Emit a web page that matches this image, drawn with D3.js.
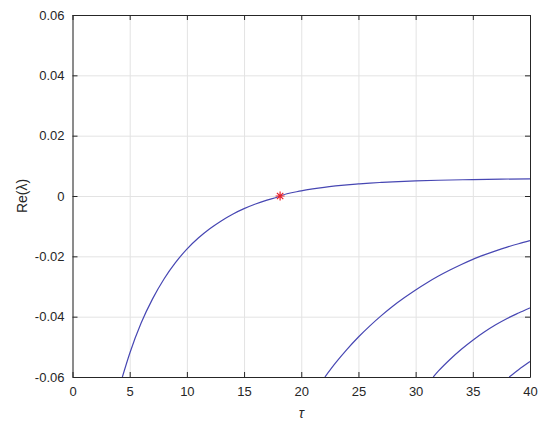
<!DOCTYPE html>
<html>
<head>
<meta charset="utf-8">
<script src="https://cdn.jsdelivr.net/npm/d3@7"></script>
<style>
  body { margin: 0; background: #fff; }
  text { font-family: "Liberation Sans", Arial, sans-serif; fill: #262626; }
</style>
</head>
<body>
<div class="chart"></div>
<script>
// data
var xTicks = [0, 5, 10, 15, 20, 25, 30, 35, 40];
var yTicks = [-0.06, -0.04, -0.02, 0, 0.02, 0.04, 0.06];
var yTickLabels = ["-0.06", "-0.04", "-0.02", "0", "0.02", "0.04", "0.06"];

var tau1 = [4.36, 5, 6, 7, 8, 9, 10, 11, 12, 13, 14, 15, 16, 17, 18, 18.15,
  20, 21, 22, 23, 24, 25, 26, 27, 28, 29, 30, 32, 35, 37.5, 40];
var re1 = [-0.0600, -0.0522, -0.0421, -0.0341, -0.0275, -0.0221, -0.0176, -0.01394, -0.01085,
  -0.00825, -0.00603, -0.0042, -0.00266, -0.00136, -0.00025, 0,
  0.0017, 0.00235, 0.00289, 0.00333, 0.0037, 0.0040, 0.00427, 0.0045, 0.0047, 0.00487, 0.0050,
  0.00522, 0.00545, 0.0056, 0.0057];

var tau2 = [22.07, 23, 24, 25, 26, 27, 28, 29, 30, 31, 32, 33, 34, 35, 36, 37, 38, 39, 40];
var re2 = [-0.0600, -0.05535, -0.05085, -0.04675, -0.04305, -0.03965, -0.03655, -0.03375, -0.03115,
  -0.02875, -0.02655, -0.02455, -0.0227, -0.0210, -0.01953, -0.01818, -0.01694, -0.01582, -0.0148];

var tau3 = [31.54, 32, 33, 34, 35, 36, 37, 38, 39, 40];
var re3 = [-0.0600, -0.0580, -0.0542, -0.0508, -0.0478, -0.0451, -0.0427, -0.0406, -0.0388, -0.0371];

var tau4 = [38.18, 39, 40];
var re4 = [-0.0600, -0.0576, -0.0549];

// the red star
var markTau = [18.15];
var markRe = [0];

// svg container
var svgWidth = 550;
var svgHeight = 424;

var margin = { top: 15, right: 20, bottom: 47, left: 72.5 };
var width = svgWidth - margin.left - margin.right;
var height = svgHeight - margin.top - margin.bottom;

var svg = d3.select(".chart")
  .append("svg")
  .attr("width", svgWidth)
  .attr("height", svgHeight);

var chartGroup = svg.append("g")
  .attr("transform", `translate(${margin.left}, ${margin.top})`);

var xScale = d3.scaleLinear().domain([0, 40]).range([0, width]);
var yScale = d3.scaleLinear().domain([-0.06, 0.06]).range([height, 0]);

// grid lines
chartGroup.append("g")
  .call(d3.axisBottom(xScale).tickValues(xTicks).tickSize(height).tickFormat(""))
  .call(g => g.select(".domain").remove())
  .selectAll("line").attr("stroke", "#e3e3e3");

chartGroup.append("g")
  .call(d3.axisLeft(yScale).tickValues(yTicks).tickSize(-width).tickFormat(""))
  .call(g => g.select(".domain").remove())
  .selectAll("line").attr("stroke", "#e3e3e3");

// curves
var series = [[tau1, re1], [tau2, re2], [tau3, re3], [tau4, re4]];

var line = d3.line()
  .x(d => xScale(d[0]))
  .y(d => yScale(d[1]))
  .curve(d3.curveMonotoneX);

svg.append("defs").append("clipPath").attr("id", "clip")
  .append("rect").attr("width", width).attr("height", height);

chartGroup.append("g").attr("clip-path", "url(#clip)")
  .selectAll("path")
  .data(series)
  .enter()
  .append("path")
  .attr("d", s => line(d3.zip(s[0], s[1])))
  .attr("fill", "none")
  .attr("stroke", "#4747b3")
  .attr("stroke-width", 1.2);

// star marker (plus + cross)
var star = "M-4.5,0L4.5,0M0,-4.5L0,4.5M-3.2,-3.2L3.2,3.2M-3.2,3.2L3.2,-3.2";
chartGroup.selectAll(".mark")
  .data(d3.zip(markTau, markRe))
  .enter()
  .append("path")
  .attr("class", "mark")
  .attr("transform", d => `translate(${xScale(d[0])}, ${yScale(d[1])})`)
  .attr("d", star)
  .attr("fill", "none")
  .attr("stroke", "#e8202a")
  .attr("stroke-width", 1.2);

// axes, box with inward ticks
function styleAxis(g) {
  g.select(".domain").attr("stroke", "#262626");
  g.selectAll(".tick line").attr("stroke", "#262626");
  g.selectAll("text").attr("font-size", 13).attr("fill", "#262626")
    .attr("font-family", "Liberation Sans, Arial, sans-serif");
}

chartGroup.append("g")
  .attr("transform", `translate(0, ${height})`)
  .call(d3.axisBottom(xScale).tickValues(xTicks).tickSizeInner(-5).tickSizeOuter(0).tickPadding(10).tickFormat(d3.format("d")))
  .call(styleAxis);

chartGroup.append("g")
  .call(d3.axisLeft(yScale).tickValues(yTicks).tickSizeInner(-5).tickSizeOuter(0).tickPadding(8)
    .tickFormat((d, i) => yTickLabels[i]))
  .call(styleAxis);

chartGroup.append("g")
  .call(d3.axisTop(xScale).tickValues(xTicks).tickSizeInner(-5).tickSizeOuter(0).tickFormat(""))
  .call(styleAxis);

chartGroup.append("g")
  .attr("transform", `translate(${width}, 0)`)
  .call(d3.axisRight(yScale).tickValues(yTicks).tickSizeInner(-5).tickSizeOuter(0).tickFormat(""))
  .call(styleAxis);

// axis labels
chartGroup.append("text")
  .attr("x", width / 2)
  .attr("y", height + 41)
  .attr("text-anchor", "middle")
  .attr("font-size", 14)
  .attr("font-style", "italic")
  .text("τ");

chartGroup.append("text")
  .attr("transform", "rotate(-90)")
  .attr("x", -height / 2)
  .attr("y", -46)
  .attr("text-anchor", "middle")
  .attr("font-size", 14)
  .text("Re(λ)");
</script>
</body>
</html>
